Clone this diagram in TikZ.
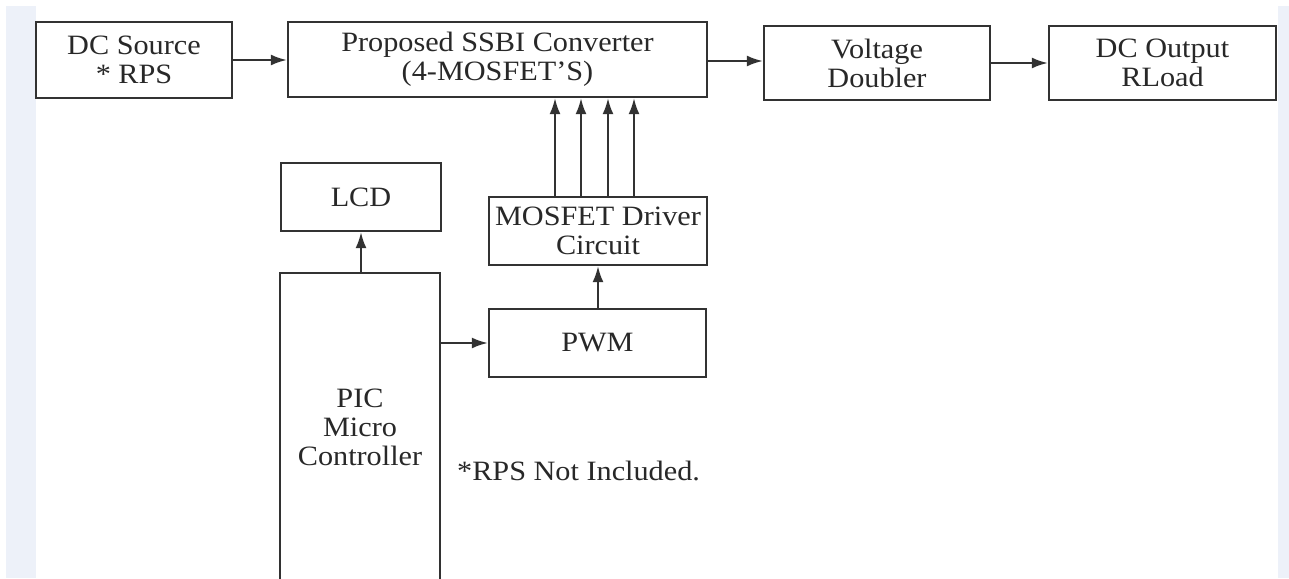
\documentclass[tikz,border=0pt]{standalone}
\usepackage{fontspec}
\setmainfont{Liberation Serif}[FakeStretch=1.08]
\usetikzlibrary{arrows.meta}
\definecolor{strip}{RGB}{237,241,249}
\definecolor{ink}{RGB}{50,50,50}
\definecolor{txt}{RGB}{40,40,40}
\tikzset{
  blk/.style={draw=ink, line width=2.4pt, fill=white, inner sep=0pt, align=center,
    text=txt, font=\fontsize{28}{29}\selectfont},
  arr/.style={draw=ink, line width=2pt, -{Latex[length=16pt,width=11pt]}},
  note/.style={text=txt, font=\fontsize{28}{29}\selectfont, inner sep=0pt}
}
\begin{document}
\begin{tikzpicture}[x=1pt,y=-1pt]
\useasboundingbox (0,0) rectangle (1289,578);
\fill[white] (0,0) rectangle (1289,578);
\fill[strip] (6,6) rectangle (36,578);
\fill[strip] (1278,6) rectangle (1289,578);
\begin{scope}
\clip (0,0) rectangle (1289,578);
\node[blk, minimum width=196pt, minimum height=76pt] (src) at (134,60) {DC Source\\* RPS};
\node[blk, minimum width=419pt, minimum height=75pt] (conv) at (497.5,59.5) {Proposed SSBI Converter\\(4-MOSFET'S)};
\node[blk, minimum width=226pt, minimum height=74pt] (vd) at (877,63) {Voltage\\Doubler};
\node[blk, minimum width=227pt, minimum height=74pt] (out) at (1162.5,63) {DC Output\\RLoad};
\node[blk, minimum width=160pt, minimum height=68pt] (lcd) at (361,197) {LCD};
\node[blk, minimum width=218pt, minimum height=68pt] (drv) at (598,231) {MOSFET Driver\\Circuit};
\node[blk, minimum width=217pt, minimum height=68pt] (pwm) at (597.5,343) {PWM};
\node[blk, minimum width=160pt, minimum height=308pt] (pic) at (360,427) {PIC\\Micro\\Controller};
\node[note, anchor=base west] (rps) at (457,480) {*RPS Not Included.};

\draw[arr] (src.east |- 0,60) -- (conv.west |- 0,60);
\draw[arr] (conv.east |- 0,61) -- (vd.west |- 0,61);
\draw[arr] (vd.east |- 0,63) -- (out.west |- 0,63);
\draw[arr] (pic.north -| 361,0) -- (lcd.south -| 361,0);
\draw[arr] (pic.east |- pwm.west) -- (pwm.west);
\draw[arr] (pwm.north -| 598,0) -- (drv.south -| 598,0);
\foreach \xx in {555,581,608,634}{
  \draw[arr] (\xx,0 |- drv.north) -- (\xx,0 |- conv.south);
}
\end{scope}
\end{tikzpicture}
\end{document}
